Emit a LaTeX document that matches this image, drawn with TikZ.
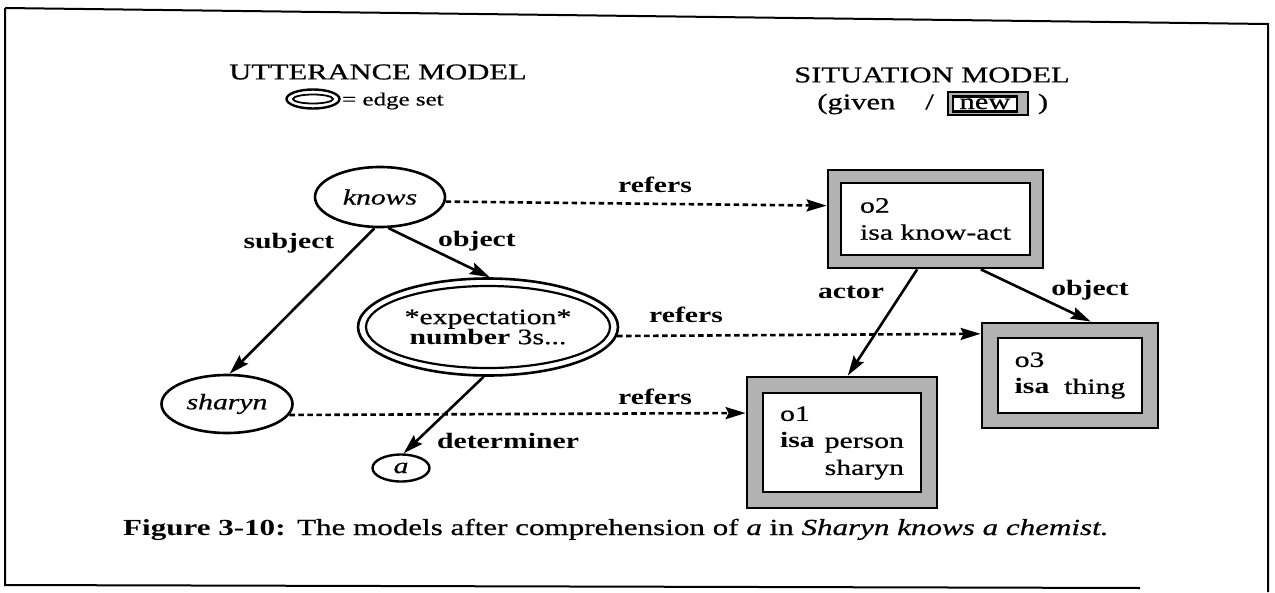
\documentclass[tikz,border=0pt]{standalone}
\usepackage{fontspec}
\setmainfont{Liberation Serif}[FakeStretch=1.35,
  UprightFeatures={FakeBold=0.7}, ItalicFeatures={FakeBold=0.7}]
\usetikzlibrary{arrows.meta,shapes.geometric}
\begin{document}
\begin{tikzpicture}[x=1pt,y=-1pt,
  lbl/.style={font=\fontsize{22}{24}\selectfont\bfseries, inner sep=0pt},
  txt/.style={font=\fontsize{22.6}{24}\selectfont, inner sep=0pt},
  oval/.style={ellipse, draw, line width=2.6pt, inner sep=0pt, font=\fontsize{22}{20}\selectfont},
  arr/.style={line width=2.6pt, -{Stealth[length=20pt,width=12pt,inset=3pt]}},
  refarr/.style={arr, dash pattern=on 5.5pt off 3.5pt},
  band/.style={rectangle, draw, line width=2.8pt, fill=black!30, inner sep=0pt},
  inbox/.style={rectangle, draw, line width=2.8pt, fill=white, inner sep=0pt, align=left,
    font=\fontsize{22}{27}\selectfont},
]
\useasboundingbox (0,0) rectangle (1275,592);
% frame
\draw[line width=2pt] (5,8) -- (1268,24) -- (1268,592);
\draw[line width=2pt] (5,8) -- (5,585) -- (1140,588);

% titles
\node[txt] (t1) at (378,72) {UTTERANCE MODEL};
\node[oval, minimum width=53pt, minimum height=19pt, line width=2.4pt] (eicon) at (313,99) {};
\node[ellipse, draw, line width=1.8pt, minimum width=40pt, minimum height=9pt, inner sep=0pt] (eiconin) at (313,99) {};
\node[txt, anchor=west, font=\fontsize{18.5}{20}\selectfont] (t1b) at (342,101) {= edge set};

\node[txt] (t2) at (932,75) {SITUATION MODEL};
\node[txt, anchor=east] (t2a) at (934,104) {(given\hspace{30pt}/};
\node[band, minimum width=80pt, minimum height=23pt] (newo) at (988,103.5) {};
\node[rectangle, draw, line width=2.2pt, fill=white, minimum width=64pt, inner sep=0pt, inner ysep=2.5pt,
  text height=10pt, text depth=0pt, font=\fontsize{22.6}{24}\selectfont] (newi) at (985,104) {new};
\node[txt] (t2c) at (1043,104) {)};

% utterance model nodes
\node[oval, minimum width=130pt, minimum height=60pt] (knows) at (380,197) {\itshape knows};
\node[oval, minimum width=131pt, minimum height=58pt] (sharyn) at (227,404) {\itshape sharyn};
\node[oval, minimum width=260pt, minimum height=97pt] (expect) at (488,327) {};
\node[oval, minimum width=244pt, minimum height=82pt, line width=2.2pt, align=center] (expectin) at (488,327)
  {*expectation*\\\textbf{number} 3s...};
\node[oval, minimum width=57pt, minimum height=27pt, line width=2.4pt] (a) at (401,468) {\itshape a};

% situation model boxes
\node[band, minimum width=215pt, minimum height=98pt] (o2) at (935.5,219) {};
\node[inbox, minimum width=189pt, minimum height=72pt] (o2in) at (935.5,219)
  {o2\\isa know-act};
\node[band, minimum width=176pt, minimum height=105pt] (o3) at (1070,375.5) {};
\node[inbox, minimum width=144pt, minimum height=75pt] (o3in) at (1070,375.5)
  {o3\\\textbf{isa}\ \ thing};
\node[band, minimum width=190pt, minimum height=131pt] (o1) at (842,442.5) {};
\node[inbox, minimum width=158pt, minimum height=99pt] (o1in) at (842,442.5)
  {\begin{tabular}{@{}l@{\hspace{10pt}}l@{}}o1&\\\textbf{isa}&person\\&sharyn\end{tabular}};

% connectors
\draw[arr] (knows.-100) -- (sharyn.85);
\draw[arr] (knows.-75) -- (expect.88);
\draw[arr] (expect.-95) -- (a.80);
\draw[refarr] (knows.-4) -- (o2.173);
\draw[refarr] (expect.-4) -- (o3.155);
\draw[refarr] (sharyn.-10) -- (o1.163);
\draw[arr] (o2.-110) -- (o1.85);
\draw[arr] (o2.-48) -- (o3.69);

% edge labels
\node[lbl] (lsubj) at (289,243) {subject};
\node[lbl] (lobj) at (477,241) {object};
\node[lbl] (ldet) at (508,441) {determiner};
\node[lbl] (lref1) at (655,185) {refers};
\node[lbl] (lref2) at (686,315) {refers};
\node[lbl] (lref3) at (655,397) {refers};
\node[lbl] (lact) at (851,292) {actor};
\node[lbl] (lobj2) at (1090,290) {object};

% caption
\node[anchor=base west, inner sep=0pt, font=\fontsize{23}{26}\selectfont] (cap) at (123,535)
  {\textbf{Figure 3-10:}\enspace The models after comprehension of \textit{a} in \textit{Sharyn knows a chemist.}};
\end{tikzpicture}
\end{document}
